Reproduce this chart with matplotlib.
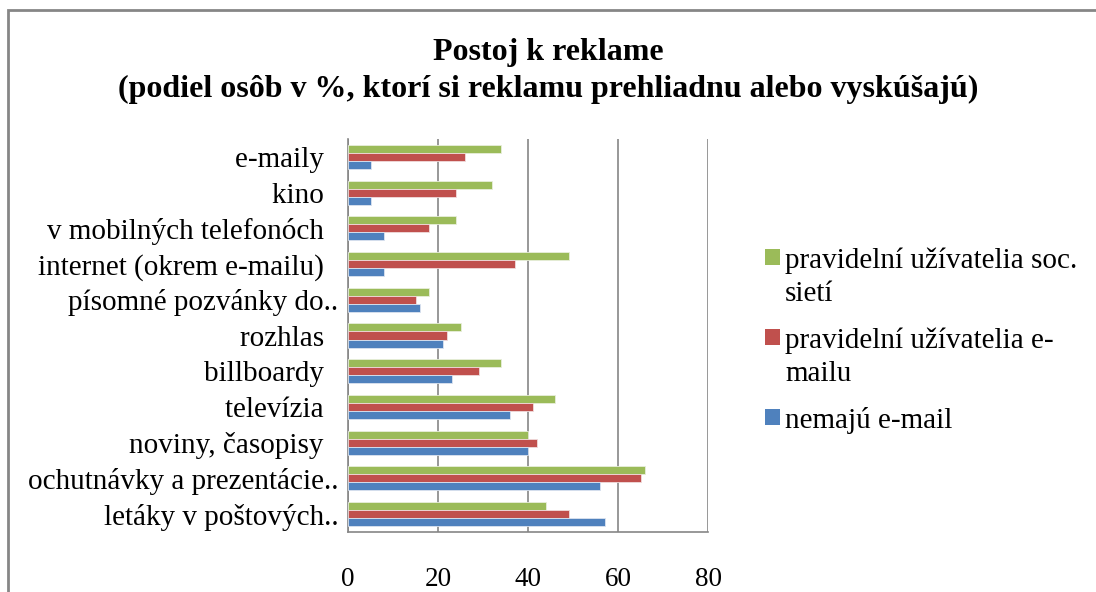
import numpy as np
import matplotlib.pyplot as plt
from matplotlib.patches import Rectangle

plt.rcParams['font.family'] = ['Liberation Serif', 'DejaVu Serif']

# categories bottom -> top (as drawn on the y axis)
categories = ['letáky v poštových..', 'ochutnávky a prezentácie..', 'noviny, časopisy',
              'televízia', 'billboardy', 'rozhlas', 'písomné pozvánky do..',
              'internet (okrem e-mailu)', 'v mobilných telefonóch', 'kino', 'e-maily']
nemaju_email = [57, 56, 40, 36, 23, 21, 16, 8, 8, 5, 5]
uzivatelia_email = [49, 65, 42, 41, 29, 22, 15, 37, 18, 24, 26]
uzivatelia_soc = [44, 66, 40, 46, 34, 25, 18, 49, 24, 32, 34]

series_labels = ['pravidelní užívatelia soc.\nsietí', 'pravidelní užívatelia e-\nmailu', 'nemajú e-mail']
colors = ['#9BBB59', '#C0504D', '#4F81BD']
x_ticks = [0, 20, 40, 60, 80]

W, H = 1096, 592
fig = plt.figure(figsize=(W / 100, H / 100), dpi=100)
ax = fig.add_axes([348 / W, 1 - 532 / H, 360 / W, 393 / H])

y = np.arange(len(categories))
h = 0.225
ax.barh(y + h, uzivatelia_soc, height=h, color=colors[0], edgecolor='#e8eedc', linewidth=0.6, zorder=3)
ax.barh(y, uzivatelia_email, height=h, color=colors[1], edgecolor='#f0dcdc', linewidth=0.6, zorder=3)
ax.barh(y - h, nemaju_email, height=h, color=colors[2], edgecolor='#dce4f0', linewidth=0.6, zorder=3)

ax.set_xlim(0, 80)
ax.set_ylim(-0.5, len(categories) - 0.5)
ax.set_xticks(x_ticks)
ax.set_xticklabels([str(t) for t in x_ticks], fontsize=19.5)
ax.set_yticks(y)
# labels without ".." get trailing spaces so they end left of the truncated ones
ylabels = [c if c.endswith('..') else c + '  ' for c in categories]
ax.set_yticklabels(ylabels, fontsize=21)
ax.tick_params(axis='y', length=0, pad=7)
ax.tick_params(axis='x', length=0, pad=25)
ax.grid(axis='x', color='#868686', linewidth=1.2, zorder=0)
for s in ['top', 'right']:
    ax.spines[s].set_visible(False)
for s in ['left', 'bottom']:
    ax.spines[s].set_color('#868686')
    ax.spines[s].set_linewidth(1.2)

fig.text(0.5, 1 - 71 / H, 'Postoj k reklame\n(podiel osôb v %, ktorí si reklamu prehliadnu alebo vyskúšajú)',
         ha='center', va='center', fontsize=23, fontweight='bold', linespacing=1.38)

# legend drawn by hand so the square sits next to the first line
leg_base = [265, 345, 425]
for lab, col, yy in zip(series_labels, colors, leg_base):
    fig.patches.append(Rectangle((765 / W, 1 - yy / H), 15 / W, 16 / H,
                                 transform=fig.transFigure, facecolor=col, edgecolor='none'))
    fig.text(785 / W, 1 - (yy - 18) / H, lab, ha='left', va='top', fontsize=21, linespacing=1.38)

# outer chart frame
fig.patches.append(Rectangle((8 / W, -0.05), 1.1, 1 - 10 / H + 0.05, transform=fig.transFigure,
                             fill=False, edgecolor='#868686', linewidth=2))

fig.savefig('out.png', dpi=100)
